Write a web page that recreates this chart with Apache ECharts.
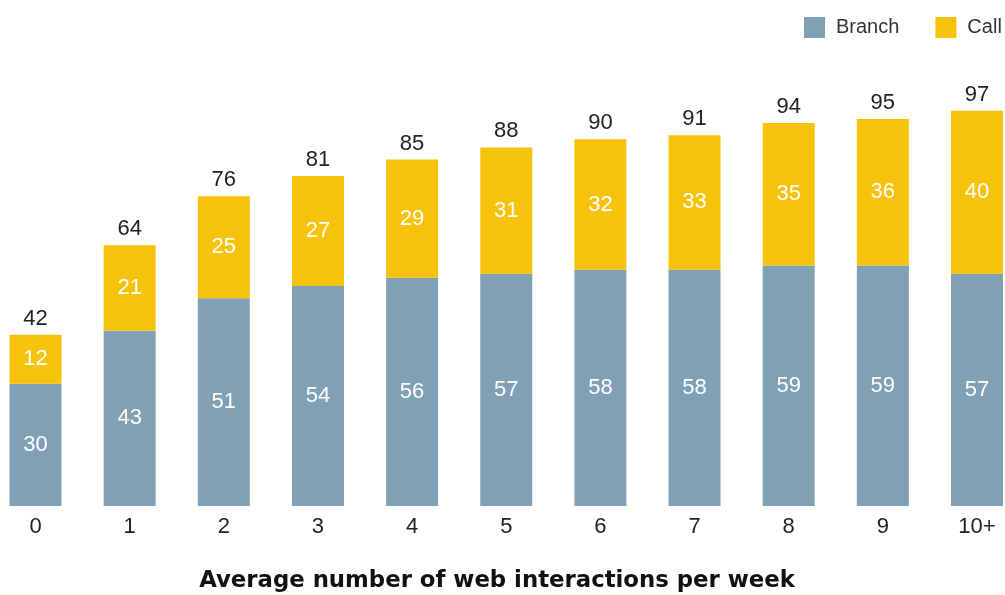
<!DOCTYPE html>
<html>
<head>
<meta charset="utf-8">
<script src="https://cdn.jsdelivr.net/npm/echarts@6/dist/echarts.min.js"></script>
<style>
  html, body { margin: 0; padding: 0; background: #ffffff; }
  #chart { width: 1005px; height: 595px; }
</style>
</head>
<body>
<div id="chart"></div>
<script>
// Weekly web interactions vs. share of customers using branch / call channels
const categories = ['0', '1', '2', '3', '4', '5', '6', '7', '8', '9', '10+'];
const branch = [30, 43, 51, 54, 56, 57, 58, 58, 59, 59, 57];
const call = [12, 21, 25, 27, 29, 31, 32, 33, 35, 36, 40];
const totals = branch.map((v, i) => v + call[i]);

const FONT = "'Liberation Sans', Arial, Helvetica, sans-serif";
const BLUE = '#80a0b6';
const YELLOW = '#f7c30a';

const chart = echarts.init(document.getElementById('chart'), null, { renderer: 'canvas' });

const insideLabel = {
  show: true,
  position: 'inside',
  color: '#ffffff',
  fontFamily: FONT,
  fontSize: 22
};

chart.setOption({
  animation: false,
  backgroundColor: '#ffffff',
  textStyle: { fontFamily: FONT },
  legend: {
    data: ['Branch', 'Call'],
    orient: 'horizontal',
    left: 804,
    top: 17,
    width: 300,
    padding: 0,
    itemWidth: 21,
    itemHeight: 21,
    itemGap: 36,
    icon: 'rect',
    textStyle: { color: '#333333', fontSize: 20, fontFamily: FONT, padding: [0, 0, 0, 6] }
  },
  // bars sit on the tick positions; first and last bars extend past the grid edges
  grid: { left: 35.5, right: 28, top: 98.5, height: 407.5 },
  xAxis: {
    type: 'category',
    data: categories,
    boundaryGap: false,
    axisLine: { show: false },
    axisTick: { show: false },
    splitLine: { show: false },
    axisLabel: { color: '#222222', fontSize: 22, fontFamily: FONT, margin: 10 }
  },
  yAxis: {
    type: 'value',
    min: 0,
    max: 100,
    show: false
  },
  graphic: [{
    type: 'text',
    x: 497,
    y: 581,
    style: {
      text: 'Average number of web interactions per week',
      fill: '#111111',
      font: "bold 22.8px 'DejaVu Sans', sans-serif",
      textAlign: 'center',
      textVerticalAlign: 'middle'
    }
  }],
  series: [
    {
      name: 'Branch',
      type: 'bar',
      stack: 'all',
      data: branch,
      barWidth: 52,
      clip: false,
      itemStyle: { color: BLUE },
      label: insideLabel
    },
    {
      name: 'Call',
      type: 'bar',
      stack: 'all',
      data: call,
      barWidth: 52,
      clip: false,
      itemStyle: { color: YELLOW },
      label: insideLabel
    },
    {
      // stack totals written above each bar
      name: 'Total',
      type: 'scatter',
      data: totals,
      symbolSize: 0,
      silent: true,
      clip: false,
      itemStyle: { opacity: 1 },
      label: {
        show: true,
        position: 'top',
        distance: 5,
        color: '#222222',
        opacity: 1,
        fontSize: 22,
        fontFamily: FONT,
        formatter: p => String(p.value)
      }
    }
  ]
});
</script>
</body>
</html>
